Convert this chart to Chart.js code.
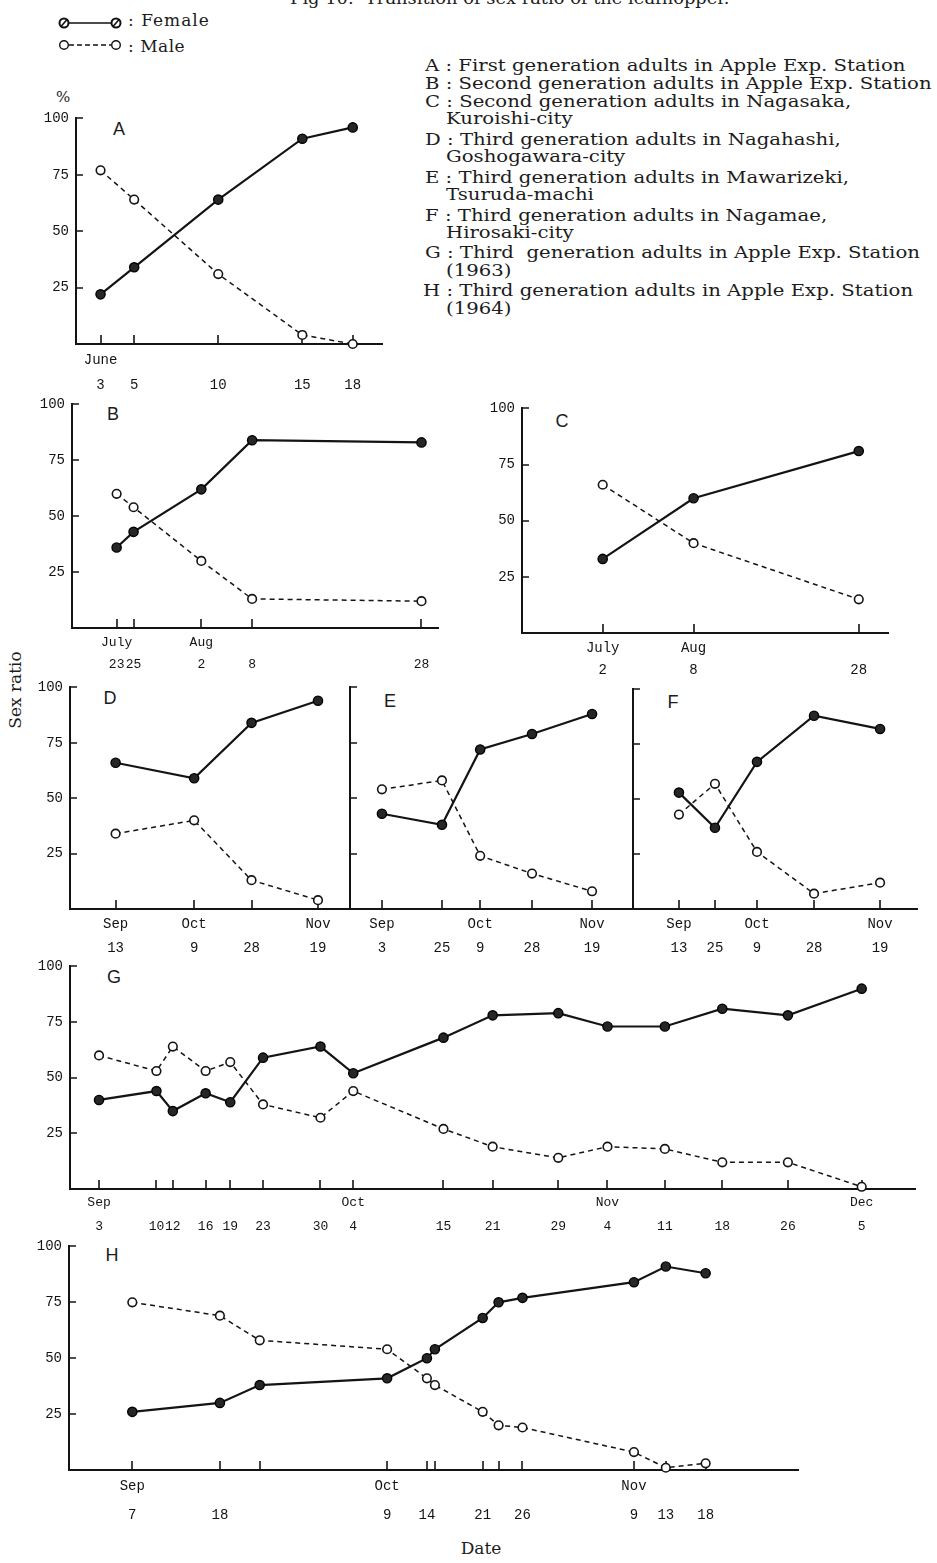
<!DOCTYPE html>
<html>
<head>
<meta charset="utf-8">
<script src="https://cdn.jsdelivr.net/npm/chart.js@4.4.1/dist/chart.umd.min.js"></script>
<style>
html,body{margin:0;padding:0;background:#fff;}
body{width:937px;height:1563px;position:relative;overflow:hidden;font-family:"DejaVu Serif",serif;color:#1c1c1c;}
.t{position:absolute;white-space:nowrap;line-height:20px;font-size:17px;transform-origin:0 50%;}
.pl{position:absolute;font-family:"Liberation Sans",Arial,sans-serif;font-size:18px;line-height:18px;transform:translate(-50%,-50%);}
canvas{position:absolute;}
</style>
</head>
<body>
<div class="t" id="title" style="left:290px;top:-12px;">Fig 10.&nbsp; Transition of sex ratio of the leafhopper.</div>

<svg style="position:absolute;left:0;top:0" width="240" height="60">
  <line x1="68" y1="23" x2="112" y2="23" stroke="#111" stroke-width="1.6"/>
  <circle cx="64" cy="23" r="4.5" fill="#fff" stroke="#111" stroke-width="2"/>
  <line x1="61" y1="26.5" x2="67" y2="19.5" stroke="#111" stroke-width="1.6"/>
  <circle cx="116" cy="23" r="4.5" fill="#fff" stroke="#111" stroke-width="2"/>
  <line x1="113" y1="26.5" x2="119" y2="19.5" stroke="#111" stroke-width="1.6"/>
  <line x1="69" y1="45" x2="111" y2="45" stroke="#111" stroke-width="1.3" stroke-dasharray="5,3"/>
  <circle cx="64" cy="45" r="4.3" fill="#fff" stroke="#111" stroke-width="1.4"/>
  <circle cx="116" cy="45" r="4.3" fill="#fff" stroke="#111" stroke-width="1.4"/>
</svg>
<div class="t" style="left:128px;top:10px;letter-spacing:1px;">: Female</div>
<div class="t" style="left:128px;top:36px;letter-spacing:0.5px;">: Male</div>

<div class="t desc" style="left:425px;top:55px;">A : First generation adults in Apple Exp. Station</div>
<div class="t desc" id="lineB" style="left:425px;top:73px;">B : Second generation adults in Apple Exp. Station</div>
<div class="t desc" style="left:425px;top:91px;">C : Second generation adults in Nagasaka,</div>
<div class="t desc" style="left:446px;top:108px;">Kuroishi-city</div>
<div class="t desc" style="left:425px;top:129px;">D : Third generation adults in Nagahashi,</div>
<div class="t desc" style="left:446px;top:146px;">Goshogawara-city</div>
<div class="t desc" style="left:425px;top:167px;">E : Third generation adults in Mawarizeki,</div>
<div class="t desc" style="left:446px;top:184px;">Tsuruda-machi</div>
<div class="t desc" style="left:425px;top:205px;">F : Third generation adults in Nagamae,</div>
<div class="t desc" style="left:446px;top:222px;">Hirosaki-city</div>
<div class="t desc" style="left:425px;top:242px;">G : Third&nbsp; generation adults in Apple Exp. Station</div>
<div class="t desc" style="left:446px;top:260px;">(1963)</div>
<div class="t desc" style="left:423px;top:280px;">H : Third generation adults in Apple Exp. Station</div>
<div class="t desc" style="left:446px;top:298px;">(1964)</div>

<div class="t" style="left:56px;top:87px;font-size:15px;">%</div>
<div class="t" style="left:15px;top:690px;font-size:17px;transform:translate(-50%,-50%) rotate(-90deg);transform-origin:50% 50%;">Sex ratio</div>
<div class="t" style="left:481px;top:1548px;font-size:17px;transform:translate(-50%,-50%);transform-origin:50% 50%;">Date</div>

<div class="pl" style="left:119px;top:129px;">A</div>
<div class="pl" style="left:113px;top:414px;">B</div>
<div class="pl" style="left:562px;top:421px;">C</div>
<div class="pl" style="left:110px;top:698px;">D</div>
<div class="pl" style="left:390px;top:701px;">E</div>
<div class="pl" style="left:673px;top:702px;">F</div>
<div class="pl" style="left:114px;top:977px;">G</div>
<div class="pl" style="left:112px;top:1255px;">H</div>

<script>
// ---------------- DATA ----------------
// A : First generation adults in Apple Exp. Station
const aDates  = ['06-03','06-05','06-10','06-15','06-18'];
const aMonths = ['June','','','',''];
const aDays   = ['3','5','10','15','18'];
const aFemale = [22, 34, 64, 91, 96];
const aMale   = [77, 64, 31, 4, 0];

// B : Second generation adults in Apple Exp. Station
const bDates  = ['07-23','07-25','08-02','08-08','08-28'];
const bMonths = ['July','','Aug','',''];
const bDays   = ['23','25','2','8','28'];
const bFemale = [36, 43, 62, 84, 83];
const bMale   = [60, 54, 30, 13, 12];

// C : Second generation adults in Nagasaka
// (first sample sits where July 28 falls on the printed axis; its printed label reads "2")
const cDates  = ['07-28','08-08','08-28'];
const cMonths = ['July','Aug',''];
const cDays   = ['2','8','28'];
const cFemale = [33, 60, 81];
const cMale   = [66, 40, 15];

// D : Third generation adults in Nagahashi
const dDates  = ['09-13','10-09','10-28','11-19'];
const dMonths = ['Sep','Oct','','Nov'];
const dDays   = ['13','9','28','19'];
const dFemale = [66, 59, 84, 94];
const dMale   = [34, 40, 13, 4];

// E : Third generation adults in Mawarizeki
const eDates  = ['09-03','09-25','10-09','10-28','11-19'];
const eMonths = ['Sep','','Oct','','Nov'];
const eDays   = ['3','25','9','28','19'];
const eFemale = [43, 38, 72, 79, 88];
const eMale   = [54, 58, 24, 16, 8];

// F : Third generation adults in Nagamae
const fDates  = ['09-13','09-25','10-09','10-28','11-19'];
const fMonths = ['Sep','','Oct','','Nov'];
const fDays   = ['13','25','9','28','19'];
const fFemale = [53, 37, 67, 88, 82];
const fMale   = [43, 57, 26, 7, 12];

// G : Third generation adults in Apple Exp. Station (1963)
const gDates  = ['09-03','09-10','09-12','09-16','09-19','09-23','09-30','10-04','10-15','10-21','10-29','11-04','11-11','11-18','11-26','12-05'];
const gMonths = ['Sep','','','','','','','Oct','','','','Nov','','','','Dec'];
const gDays   = ['3','10','12','16','19','23','30','4','15','21','29','4','11','18','26','5'];
const gFemale = [40, 44, 35, 43, 39, 59, 64, 52, 68, 78, 79, 73, 73, 81, 78, 90];
const gMale   = [60, 53, 64, 53, 57, 38, 32, 44, 27, 19, 14, 19, 18, 12, 12, 1];

// H : Third generation adults in Apple Exp. Station (1964)
const hDates  = ['09-07','09-18','09-23','10-09','10-14','10-15','10-21','10-23','10-26','11-09','11-13','11-18'];
const hMonths = ['Sep','','','Oct','','','','','','Nov','',''];
const hDays   = ['7','18','','9','14','','21','','26','9','13','18'];
const hFemale = [26, 30, 38, 41, 50, 54, 68, 75, 77, 84, 91, 88];
const hMale   = [75, 69, 58, 54, 41, 38, 26, 20, 19, 8, 1, 3];

const yTicks = [25, 50, 75, 100];

// ---------------- LAYOUT ----------------
function doy(s){ const p = s.split('-').map(Number); return (Date.UTC(1963,p[0]-1,p[1]) - Date.UTC(1963,0,1)) / 86400000; }

const panels = [
  {dates:aDates,months:aMonths,days:aDays,female:aFemale,male:aMale, box:[76,382,117,344],  xr:[-1.46,16.74], lh:25, pad:3.5, fs:14, yLab:true},
  {dates:bDates,months:bMonths,days:bDays,female:bFemale,male:bMale, box:[72,438,403,628],  xr:[-5.27,37.95], lh:22, pad:4,   fs:13, yLab:true},
  {dates:cDates,months:cMonths,days:cDays,female:cFemale,male:cMale, box:[522,888,407,633], xr:[-9.77,34.54], lh:22, pad:4,   fs:14, yLab:true},
  {dates:dDates,months:dMonths,days:dDays,female:dFemale,male:dMale, box:[70,350,686,909],  xr:[-15.1,77.6],  lh:24, pad:3,   fs:14, yLab:true},
  {dates:eDates,months:eMonths,days:eDays,female:eFemale,male:eMale, box:[350,633,686,909], xr:[-11.7,92.0],  lh:24, pad:3,   fs:14, yLab:false},
  {dates:fDates,months:fMonths,days:fDays,female:fFemale,male:fMale, box:[633,917,688,909], xr:[-15.3,79.3],  lh:24, pad:3,   fs:14, yLab:false},
  {dates:gDates,months:gMonths,days:gDays,female:gFemale,male:gMale, box:[70,915,965,1189], xr:[-3.54,99.5],  lh:24, pad:2,   fs:13, yLab:true},
  {dates:hDates,months:hMonths,days:hDays,female:hFemale,male:hMale, box:[69,798,1245,1470],xr:[-7.95,83.6],  lh:29, pad:1.5, fs:14, yLab:true}
];

const YW = 45, PT = 14, PR = 14, XH = 64;
const INK = '#141414';

const innerTicks = {
  id: 'innerTicks',
  beforeDatasetsDraw(chart) {
    const {ctx, chartArea: a} = chart;
    const x = chart.scales.x, y = chart.scales.y;
    ctx.save();
    ctx.strokeStyle = INK; ctx.lineWidth = 1.6;
    ctx.beginPath();
    x.ticks.forEach(t => { const px = Math.round(x.getPixelForValue(t.value)); ctx.moveTo(px, a.bottom); ctx.lineTo(px, a.bottom - 9); });
    yTicks.forEach(v => { const py = Math.round(y.getPixelForValue(v)); ctx.moveTo(a.left, py); ctx.lineTo(a.left + 7, py); });
    ctx.stroke();
    ctx.restore();
  }
};

panels.forEach(p => {
  const [L, R, T, B] = p.box;
  const cv = document.createElement('canvas');
  const w = R - L + YW + PR, h = B - T + PT + XH;
  cv.width = w; cv.height = h;
  cv.style.left = (L - YW) + 'px';
  cv.style.top = (T - PT) + 'px';
  cv.style.width = w + 'px'; cv.style.height = h + 'px';
  document.body.appendChild(cv);
  const x0 = doy(p.dates[0]);
  new Chart(cv.getContext('2d'), {
    type: 'line',
    data: {
      datasets: [
        {label:'Male', data: p.dates.map((d,i)=>({x:doy(d), y:p.male[i]})),
         borderColor:INK, borderWidth:1.5, borderDash:[5,4], tension:0,
         pointRadius:4.3, pointBackgroundColor:'#fff', pointBorderColor:INK, pointBorderWidth:1.6, clip:false},
        {label:'Female', data: p.dates.map((d,i)=>({x:doy(d), y:p.female[i]})),
         borderColor:INK, borderWidth:2.2, tension:0,
         pointRadius:4.6, pointBackgroundColor:'#262626', pointBorderColor:'#000', pointBorderWidth:1.4, clip:false}
      ]
    },
    options: {
      responsive:false, animation:false, devicePixelRatio:1,
      layout:{padding:{top:PT, right:PR, left:0, bottom:0}},
      plugins:{legend:{display:false}, tooltip:{enabled:false}},
      scales:{
        x:{type:'linear', min:x0+p.xr[0], max:x0+p.xr[1],
           grid:{display:false, drawTicks:false},
           border:{display:true, color:INK, width:2},
           afterBuildTicks: s => { s.ticks = p.dates.map(d => ({value: doy(d)})); },
           afterFit: s => { s.height = XH; },
           ticks:{autoSkip:false, maxRotation:0, minRotation:0, padding:p.pad, color:INK,
                  font:{family:'Liberation Mono', size:p.fs, lineHeight:p.lh+'px'},
                  callback:(v,i) => [p.months[i], p.days[i]]}},
        y:{type:'linear', min:0, max:100,
           grid:{display:false, drawTicks:false},
           border:{display:true, color:INK, width:2},
           afterBuildTicks: s => { s.ticks = [0].concat(yTicks).map(v => ({value:v})); },
           afterFit: s => { s.width = YW; },
           ticks:{padding:7, color:INK, font:{family:'Liberation Mono', size:14},
                  callback: v => (p.yLab && v > 0) ? String(v) : ''}}
      }
    },
    plugins:[innerTicks]
  });
});

// uniform horizontal fit of the caption text to the reference line widths
(function(){
  const b = document.getElementById('lineB');
  const k = 507 / b.offsetWidth;
  document.querySelectorAll('.desc').forEach(el => { el.style.transform = 'scaleX(' + k.toFixed(4) + ')'; });
  const t = document.getElementById('title');
  t.style.transform = 'scaleX(' + (440 / t.offsetWidth).toFixed(4) + ')';
})();
</script>
</body>
</html>
